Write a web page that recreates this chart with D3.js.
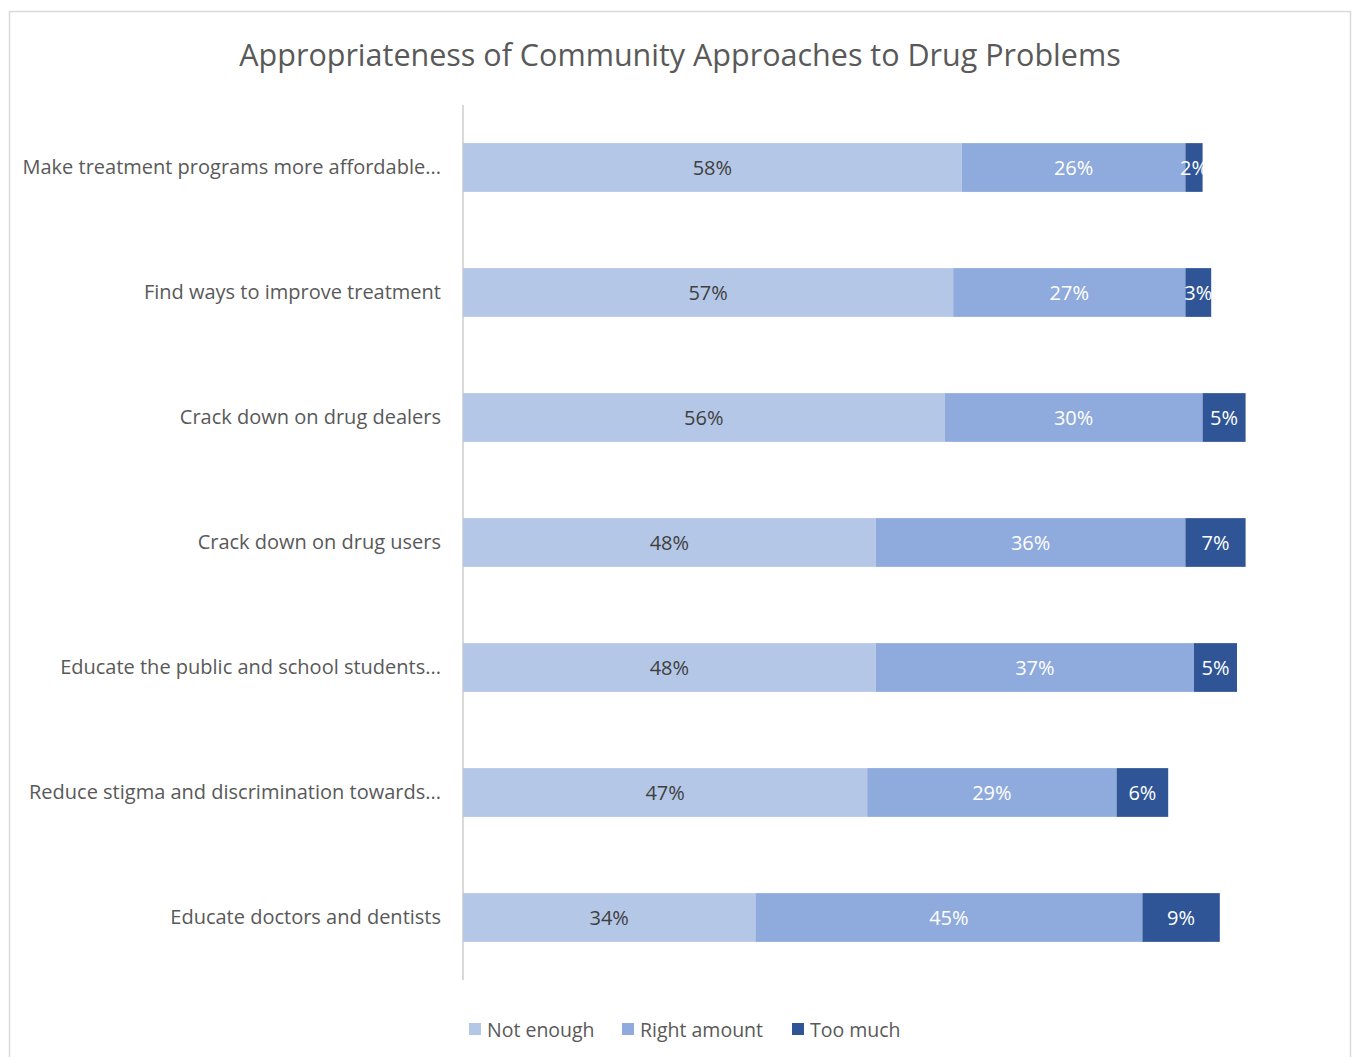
<!DOCTYPE html>
<html>
<head>
<meta charset="utf-8">
<script src="https://cdn.jsdelivr.net/npm/d3@7"></script>
<style>
  html, body { margin: 0; padding: 0; background: #ffffff; }
  svg { display: block; }
  text { font-family: "Open Sans", Lato, sans-serif; }
</style>
</head>
<body>
<svg id="chart" width="1354" height="1057"></svg>
<script>
// Survey items, top to bottom
const categories = [
  "Make treatment programs more affordable...",
  "Find ways to improve treatment",
  "Crack down on drug dealers",
  "Crack down on drug users",
  "Educate the public and school students...",
  "Reduce stigma and discrimination towards...",
  "Educate doctors and dentists"
];

const seriesNames = ["Not enough", "Right amount", "Too much"];

// Percent of respondents per answer
const notEnough   = [58, 57, 56, 48, 48, 47, 34];
const rightAmount = [26, 27, 30, 36, 37, 29, 45];
const tooMuch     = [2, 3, 5, 7, 5, 6, 9];

const colors = ["#b4c7e7", "#8faadc", "#2f5597"];
const labelColors = ["#404040", "#ffffff", "#ffffff"];

const rows = categories.map((c, i) => ({
  category: c,
  "Not enough": notEnough[i],
  "Right amount": rightAmount[i],
  "Too much": tooMuch[i]
}));

const svg = d3.select("#chart");
const FONT = "'Open Sans', Lato, sans-serif";

// Outer chart frame
svg.append("rect")
  .attr("x", 9.5).attr("y", 11.5)
  .attr("width", 1341).attr("height", 1060)
  .attr("fill", "#ffffff")
  .attr("stroke", "#d9d9d9")
  .attr("stroke-width", 1.5);

// Title
svg.append("text")
  .attr("x", 680).attr("y", 54)
  .attr("text-anchor", "middle")
  .attr("dominant-baseline", "central")
  .attr("fill", "#595959")
  .attr("font-size", 30.5)
  .text("Appropriateness of Community Approaches to Drug Problems");

const x = d3.scaleLinear().domain([0, 100]).range([463, 1323]);
const y = d3.scaleBand().domain(categories).range([105, 980]).paddingInner(0.61).paddingOuter(0.305);

const stacked = d3.stack().keys(seriesNames)(rows);

// Category axis
const yAxis = svg.append("g")
  .attr("transform", `translate(${x(0)},0)`)
  .call(d3.axisLeft(y).tickSize(0).tickPadding(22));
yAxis.select(".domain").remove();
yAxis.selectAll("text")
  .attr("fill", "#595959")
  .attr("font-size", 20)
  .attr("font-family", FONT);

svg.append("line")
  .attr("x1", x(0)).attr("x2", x(0))
  .attr("y1", 105).attr("y2", 980)
  .attr("stroke", "#d9d9d9")
  .attr("stroke-width", 2);

// Stacked bar segments
const layers = svg.append("g").selectAll("g")
  .data(stacked)
  .join("g")
  .attr("fill", (d, i) => colors[i]);

layers.selectAll("rect")
  .data(d => d)
  .join("rect")
  .attr("x", d => x(d[0]))
  .attr("y", d => y(d.data.category))
  .attr("width", d => x(d[1]) - x(d[0]))
  .attr("height", y.bandwidth());

// Value labels centred in each segment
const labelLayers = svg.append("g").selectAll("g")
  .data(stacked)
  .join("g")
  .attr("fill", (d, i) => labelColors[i]);

labelLayers.selectAll("text")
  .data(d => d)
  .join("text")
  .attr("x", d => (x(d[0]) + x(d[1])) / 2)
  .attr("y", d => y(d.data.category) + y.bandwidth() / 2)
  .attr("text-anchor", "middle")
  .attr("dominant-baseline", "central")
  .attr("font-size", 20)
  .text(d => (d[1] - d[0]) + "%");

// Legend
const legendX = [469, 622, 792];
const legend = svg.append("g").selectAll("g")
  .data(seriesNames)
  .join("g")
  .attr("transform", (d, i) => `translate(${legendX[i]},1029)`);
legend.append("rect")
  .attr("x", 0).attr("y", -6)
  .attr("width", 12).attr("height", 12)
  .attr("fill", (d, i) => colors[i]);
legend.append("text")
  .attr("x", 18).attr("y", 0)
  .attr("dominant-baseline", "central")
  .attr("fill", "#595959")
  .attr("font-size", 19.5)
  .text(d => d);
</script>
</body>
</html>
